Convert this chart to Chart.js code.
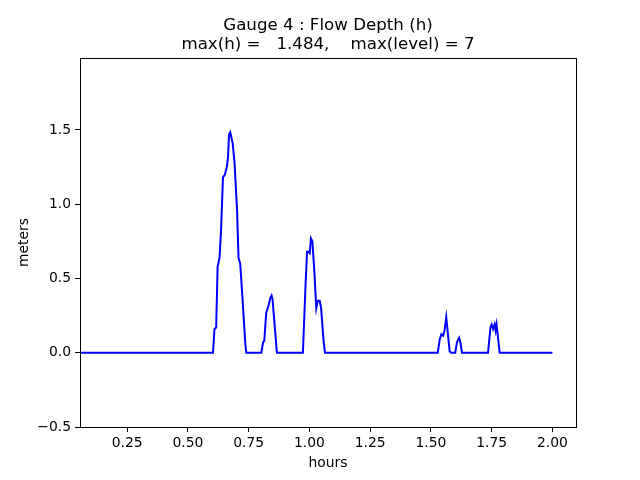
<!DOCTYPE html>
<html>
<head>
<meta charset="utf-8">
<script src="https://cdn.jsdelivr.net/npm/chart.js@4.4.1/dist/chart.umd.min.js"></script>
<style>
  html, body { margin: 0; padding: 0; background: #fff; }
  #wrap { width: 640px; height: 480px; }
</style>
</head>
<body>
<div id="wrap"><canvas id="gaugeChart" width="640" height="480"></canvas></div>
<script>
// gauge 4 time series
const hours = [
  0.0556, 0.603, 0.609, 0.616, 0.622, 0.630, 0.636, 0.644, 0.652, 0.660,
  0.665, 0.669, 0.674, 0.684, 0.692, 0.702, 0.708, 0.715, 0.725, 0.736,
  0.740, 0.802, 0.809, 0.814, 0.822, 0.832, 0.839, 0.844, 0.848, 0.855,
  0.866, 0.973, 0.983, 0.990, 0.996, 1.001, 1.006, 1.012, 1.020, 1.028,
  1.034, 1.042, 1.048, 1.058, 1.064, 1.528, 1.536, 1.543, 1.550, 1.556,
  1.563, 1.569, 1.577, 1.583, 1.600, 1.607, 1.616, 1.621, 1.628, 1.735,
  1.745, 1.750, 1.756, 1.762, 1.766, 1.770, 1.776, 1.783, 2.0
];
const depth = [
  0, 0, 0.16, 0.17, 0.58, 0.64, 0.82, 1.18, 1.20, 1.25,
  1.32, 1.47, 1.484, 1.41, 1.27, 0.96, 0.64, 0.60, 0.35, 0.06,
  0, 0, 0.07, 0.08, 0.27, 0.32, 0.37, 0.385, 0.36, 0.22,
  0, 0, 0.42, 0.68, 0.68, 0.67, 0.77, 0.75, 0.55, 0.30,
  0.35, 0.35, 0.30, 0.08, 0, 0, 0.09, 0.125, 0.115, 0.15,
  0.24, 0.14, 0.01, 0, 0, 0.07, 0.10, 0.07, 0, 0,
  0.17, 0.19, 0.16, 0.19, 0.15, 0.19, 0.10, 0, 0
];

const xTickValues = [0.25, 0.5, 0.75, 1.0, 1.25, 1.5, 1.75, 2.0];
const xTickLabels = ["0.25", "0.50", "0.75", "1.00", "1.25", "1.50", "1.75", "2.00"];
const yTickValues = [-0.5, 0, 0.5, 1.0, 1.5];
const yTickLabels = ["\u22120.5", "0.0", "0.5", "1.0", "1.5"];

const titleLines = ["Gauge 4 : Flow Depth (h)", "max(h) =   1.484,    max(level) = 7"];

const fontFamily = "'DejaVu Sans', sans-serif";

// axes frame plus a title centred over the plot area (matplotlib style)
const frameAndTitle = {
  id: "frameAndTitle",
  afterDraw(chart) {
    const { ctx, chartArea } = chart;
    ctx.save();
    ctx.strokeStyle = "#000";
    ctx.lineWidth = 1;
    ctx.strokeRect(
      Math.round(chartArea.left) + 0.5,
      Math.round(chartArea.top) + 0.5,
      Math.round(chartArea.right - chartArea.left),
      Math.round(chartArea.bottom - chartArea.top)
    );

    const cx = (chartArea.left + chartArea.right) / 2;
    ctx.fillStyle = "#000";
    ctx.font = "16.67px " + fontFamily;
    ctx.textAlign = "center";
    ctx.textBaseline = "middle";
    ctx.fillText(titleLines[0], cx, chartArea.top - 32);
    ctx.fillText(titleLines[1], cx, chartArea.top - 13);
    ctx.restore();
  }
};

const points = hours.map((h, i) => ({ x: h, y: depth[i] }));

new Chart(document.getElementById("gaugeChart").getContext("2d"), {
  type: "line",
  data: {
    datasets: [{
      data: points,
      borderColor: "#0000ff",
      borderWidth: 2,
      pointRadius: 0,
      tension: 0,
      fill: false
    }]
  },
  options: {
    responsive: false,
    animation: false,
    layout: { padding: { left: 0, right: 64, top: 58, bottom: 0 } },
    plugins: {
      legend: { display: false },
      tooltip: { enabled: false },
      title: { display: false }
    },
    scales: {
      x: {
        type: "linear",
        min: 0.0556,
        max: 2.097,
        afterBuildTicks: (scale) => {
          scale.ticks = xTickValues.map((v) => ({ value: v }));
        },
        afterFit: (scale) => { scale.height = 53; },
        ticks: {
          color: "#000",
          font: { family: fontFamily, size: 13.9 },
          padding: 3,
          maxRotation: 0,
          callback: (v) => xTickLabels[xTickValues.indexOf(v)] ?? ""
        },
        grid: { drawOnChartArea: false, tickLength: 5, tickColor: "#000", color: "#000" },
        border: { color: "#000", width: 1 },
        title: {
          display: true,
          text: "hours",
          color: "#000",
          font: { family: fontFamily, size: 13.9 },
          padding: { top: 0, bottom: 8.7 }
        }
      },
      y: {
        type: "linear",
        min: -0.5,
        max: 1.984,
        afterBuildTicks: (scale) => {
          scale.ticks = yTickValues.map((v) => ({ value: v }));
        },
        afterFit: (scale) => { scale.width = 80; },
        ticks: {
          color: "#000",
          font: { family: fontFamily, size: 13.9 },
          padding: 4,
          callback: (v) => yTickLabels[yTickValues.indexOf(v)] ?? ""
        },
        grid: { drawOnChartArea: false, tickLength: 5, tickColor: "#000", color: "#000" },
        border: { color: "#000", width: 1 },
        title: {
          display: true,
          text: "meters",
          color: "#000",
          font: { family: fontFamily, size: 13.9 },
          padding: { top: 15.7, bottom: 0 }
        }
      }
    }
  },
  plugins: [frameAndTitle]
});
</script>
</body>
</html>
